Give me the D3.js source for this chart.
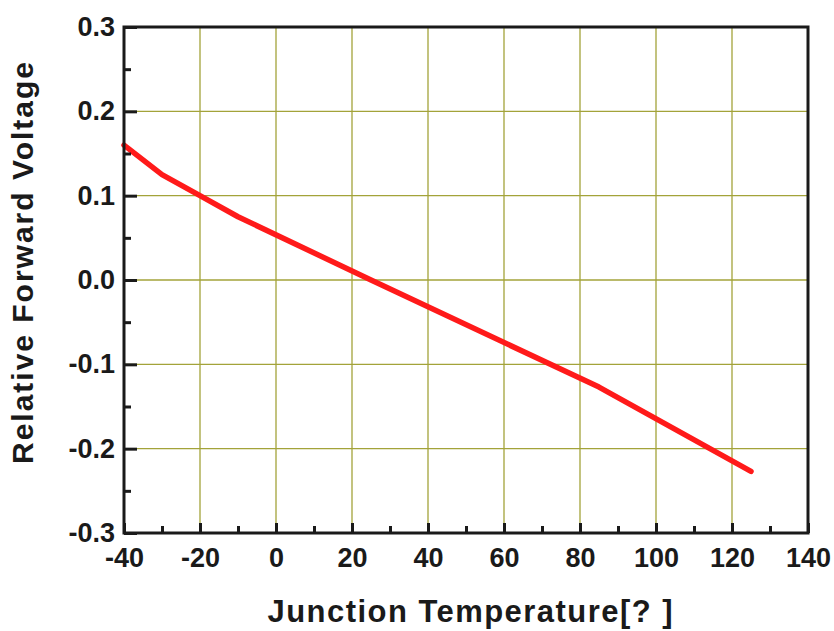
<!DOCTYPE html>
<html>
<head>
<meta charset="utf-8">
<script src="https://cdn.jsdelivr.net/npm/d3@7"></script>
<style>
  body { margin: 0; background: #fff; }
  svg text { font-family: "Liberation Sans", Arial, sans-serif; font-weight: bold; fill: #1a1a1a; }
</style>
</head>
<body>
<svg id="chart" width="834" height="631"></svg>
<script>
// DATA
var temperature = [-40, -30, -20, -10, 25, 85, 125];
var relVoltage  = [0.160, 0.125, 0.100, 0.075, 0.0, -0.127, -0.227];

var xMajorTicks = [-40, -20, 0, 20, 40, 60, 80, 100, 120, 140];
var xMinorTicks = [-30, -10, 10, 30, 50, 70, 90, 110, 130];
var yMajorTicks = [-0.3, -0.2, -0.1, 0.0, 0.1, 0.2, 0.3];
var yMinorTicks = [-0.25, -0.15, -0.05, 0.05, 0.15, 0.25];

var xTitle = 'Junction Temperature[? ]';
var yTitle = 'Relative Forward Voltage';

// SETUP
var margin = { left: 124, right: 26, top: 27, bottom: 98 };
var width = 834, height = 631;

var svg = d3.select('#chart');

var x = d3.scaleLinear().domain([-40, 140]).range([margin.left, width - margin.right]);
var y = d3.scaleLinear().domain([-0.3, 0.3]).range([height - margin.bottom, margin.top]);

// grid
var grid = svg.append('g').attr('class', 'grid');
grid.selectAll('line.gx')
  .data(xMajorTicks.slice(1, -1))
  .enter().append('line')
  .attr('x1', d => x(d)).attr('x2', d => x(d))
  .attr('y1', y(-0.3)).attr('y2', y(0.3))
  .attr('stroke', '#a3a33a').attr('stroke-width', 1.3);
grid.selectAll('line.gy')
  .data(yMajorTicks.slice(1, -1))
  .enter().append('line')
  .attr('x1', x(-40)).attr('x2', x(140))
  .attr('y1', d => y(d)).attr('y2', d => y(d))
  .attr('stroke', '#a3a33a').attr('stroke-width', 1.3);

// data line
var line = d3.line()
  .x(function (d, i) { return x(temperature[i]); })
  .y(function (d) { return y(d); });

svg.append('path')
  .attr('d', line(relVoltage))
  .attr('fill', 'none')
  .attr('stroke', '#ff1a1a')
  .attr('stroke-width', 5.5)
  .attr('stroke-linecap', 'round')
  .attr('stroke-linejoin', 'round');

// axes
function styleAxis(g) {
  g.select('.domain').remove();
  g.selectAll('.tick line').attr('stroke', '#1a1a1a').attr('stroke-width', 3);
  g.selectAll('.tick text')
    .style('font-size', '27px')
    .attr('fill', '#1a1a1a');
}

var yAxis = d3.axisLeft(y)
  .tickValues(yMajorTicks)
  .tickSize(-13)
  .tickPadding(9)
  .tickFormat(d => d.toFixed(1));
svg.append('g')
  .attr('transform', 'translate(' + margin.left + ',0)')
  .call(yAxis)
  .call(styleAxis);

svg.append('g')
  .attr('transform', 'translate(' + margin.left + ',0)')
  .call(d3.axisLeft(y).tickValues(yMinorTicks).tickSize(-7).tickFormat(''))
  .call(styleAxis);

var xAxis = d3.axisBottom(x)
  .tickValues(xMajorTicks)
  .tickSize(-10)
  .tickPadding(15)
  .tickFormat(d => String(d));
svg.append('g')
  .attr('transform', 'translate(0,' + (height - margin.bottom) + ')')
  .call(xAxis)
  .call(styleAxis);

svg.append('g')
  .attr('transform', 'translate(0,' + (height - margin.bottom) + ')')
  .call(d3.axisBottom(x).tickValues(xMinorTicks).tickSize(-7).tickFormat(''))
  .call(styleAxis);

// frame
svg.append('rect')
  .attr('x', x(-40)).attr('y', y(0.3))
  .attr('width', x(140) - x(-40))
  .attr('height', y(-0.3) - y(0.3))
  .attr('fill', 'none')
  .attr('stroke', '#1a1a1a')
  .attr('stroke-width', 3);

// titles
svg.append('text')
  .attr('x', 470).attr('y', 622)
  .attr('text-anchor', 'middle')
  .attr('textLength', 405)
  .attr('lengthAdjust', 'spacing')
  .style('font-size', '31px')
  .text(xTitle);

svg.append('text')
  .attr('transform', 'translate(33,263) rotate(-90)')
  .attr('text-anchor', 'middle')
  .attr('textLength', 402)
  .attr('lengthAdjust', 'spacing')
  .style('font-size', '30px')
  .text(yTitle);
</script>
</body>
</html>
